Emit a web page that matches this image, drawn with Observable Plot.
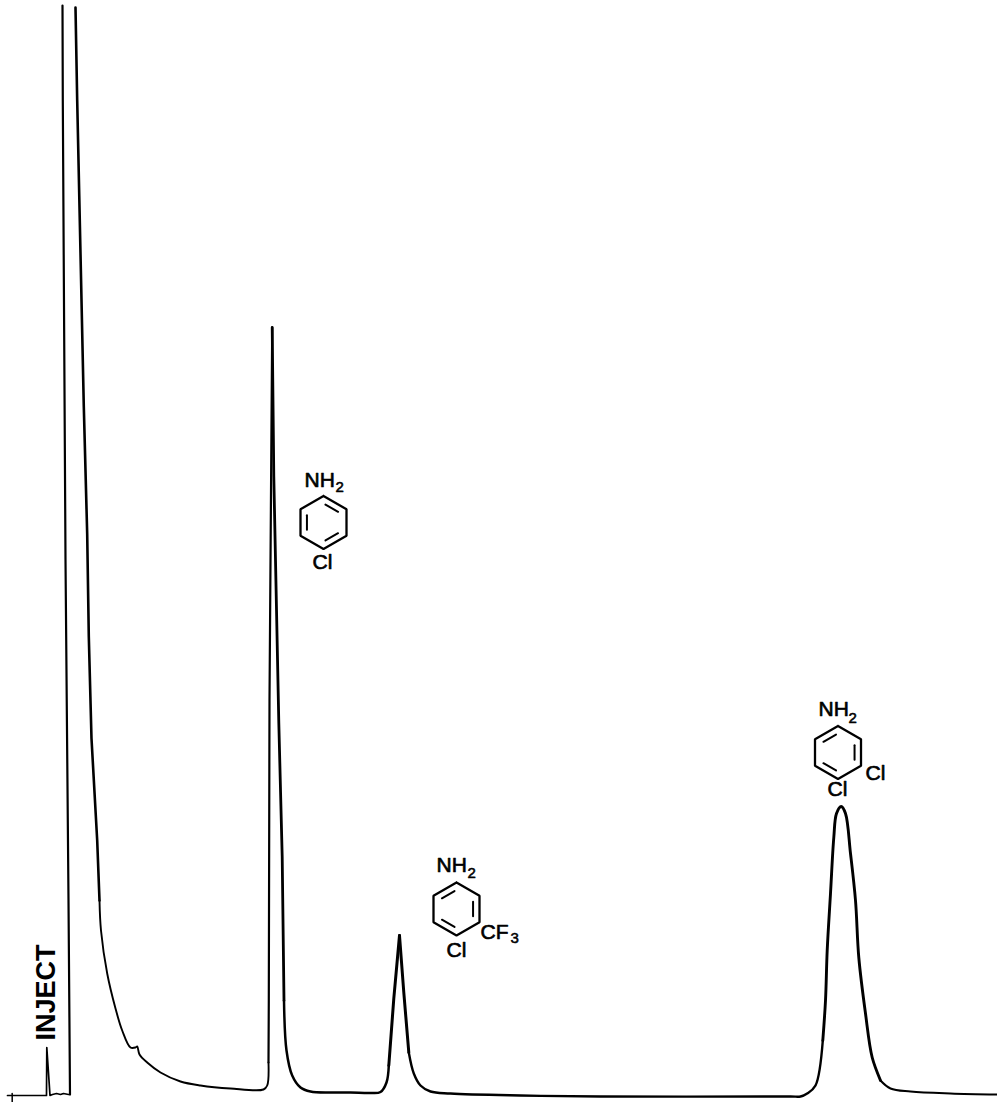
<!DOCTYPE html>
<html><head><meta charset="utf-8">
<style>html,body{margin:0;padding:0;background:#fff}svg{display:block}</style>
<script src="https://cdn.jsdelivr.net/npm/d3@7"></script>
<script src="https://cdn.jsdelivr.net/npm/@observablehq/plot@0.6"></script>
</head><body><div id="chart"></div>
<script>
// Detector trace: time (arbitrary units) and signal (arbitrary units)
const injectTime = [7,46,46.3,49.5,52,56,60,63,68,69.5];
const injectSignal = [7,7,55,7,8,9,8,9,8,8];
const solventRiseTime = [69.5,68,65,62.3,62];
const solventRiseSignal = [8,202,543,1002,1097];
const solventFallTime = [75,76.7,80,83.3,86.7,88.3,91,96.7,99];
const solventFallSignal = [1095,1002,849,696,568,466,364,262,202];
const tailTime = [99,100.5,106.7,115,121.7,130,135,136.7,139,146.7,160,180,200,230,263,266.7,268];
const tailSignal = [202,172,129,94,72,55,55,56,48,40,30,21,17,14,13,17,40];
const peak1RiseTime = [268,268.3,269,271.7];
const peak1RiseSignal = [40,102,402,775];
const peak1FallTime = [271.7,273.3,278.3,281.7,283.5];
const peak1FallSignal = [775,626,380,246,102];
const peak1TailTime = [283.5,286,291.7,300,310,330,350,370,380,386,388.3];
const peak1TailSignal = [102,52,27,15,11,10,10,9.5,10.5,20,37];
const peak2RiseTime = [388.3,393.3,399];
const peak2RiseSignal = [37,104,167];
const peak2FallTime = [399,403.3,408.3];
const peak2FallSignal = [167,110,50];
const peak2TailTime = [408.3,413.3,420,430,450,520,600,790,800,806.7,815,822.3];
const peak2TailSignal = [50,29,17,11,9,7,6,6,6,9,17,62];
const peak3Time = [822.3,825,826.7,830,833.3,836,840.7,845,850,855,858.3,865,871.7,880];
const peak3Signal = [62,102,152,209,265,289,296,289,249,202,145,89,45,22];
const peak3TailTime = [880,890,910,950,997];
const peak3TailSignal = [22,14,11,9,8];
const tickTime = [11.7,11.7];
const tickSignal = [9,0];

// Structural formula positions, in the same units as the trace
const ringTime = [323,456,837.5];
const ringSignal = [580,193.5,350];
const innerBondSides = [[0,2,4],[5,1,3],[5,1,3]];
const labelText = ["NH","Cl","NH","Cl","CF","NH","Cl","Cl"];
const labelTime = [304,322,436,456,480,818,875,837];
const labelSignal = [622,540,237,152,170,393,329,313];
const labelAnchor = ["start","middle","start","middle","start","start","middle","middle"];
const subText = ["2","2","3","2"];
const subTime = [335,467,510,848];
const subSignal = [615,229,164,384];
const injectLabel = ["INJECT"];

const ink = "#000";
const segs = [
  [injectTime,injectSignal,1.7,"linear"],
  [solventRiseTime,solventRiseSignal,2.2,"linear"],
  [solventFallTime,solventFallSignal,2.6,"linear"],
  [tailTime,tailSignal,1.9,"catmull-rom"],
  [peak1RiseTime,peak1RiseSignal,2.2,"linear"],
  [peak1FallTime,peak1FallSignal,2.8,"linear"],
  [peak1TailTime,peak1TailSignal,2.5,"catmull-rom"],
  [peak2RiseTime,peak2RiseSignal,3,"linear"],
  [peak2FallTime,peak2FallSignal,3,"linear"],
  [peak2TailTime,peak2TailSignal,2.4,"catmull-rom"],
  [peak3Time,peak3Signal,2.9,"catmull-rom"],
  [peak3TailTime,peak3TailSignal,2.1,"catmull-rom"],
  [tickTime,tickSignal,1.5,"linear"]
];
const marks = segs.map(([t,s,w,c]) => Plot.line(t.map((d,i)=>({t:d,s:s[i]})),{x:"t",y:"s",stroke:ink,strokeWidth:w,curve:c,strokeLinejoin:"round",strokeLinecap:"round"}));

// Rings: hexagon outline and inner double bonds
const R = 26.5, hw = 23;
const hex = [[0,R],[hw,R/2],[hw,-R/2],[0,-R],[-hw,-R/2],[-hw,R/2]];
ringTime.forEach((cx,k)=>{
  const cy = ringSignal[k];
  const pts = [...hex,hex[0]].map(([a,b])=>({t:cx+a,s:cy+b}));
  marks.push(Plot.line(pts,{x:"t",y:"s",stroke:ink,strokeWidth:2.3,strokeLinejoin:"miter"}));
  innerBondSides[k].forEach(i=>{
    const [a,b]=hex[i],[c,d]=hex[(i+1)%6];
    const f=0.72, sh=0.12;
    const p=[[a+(c-a)*sh,b+(d-b)*sh],[a+(c-a)*(1-sh),b+(d-b)*(1-sh)]].map(([x,y])=>({t:cx+x*f,s:cy+y*f}));
    marks.push(Plot.line(p,{x:"t",y:"s",stroke:ink,strokeWidth:2}));
  });
});

const labels = labelText.map((d,i)=>({d,t:labelTime[i],s:labelSignal[i],a:labelAnchor[i]}));
["start","middle"].forEach(a=>marks.push(Plot.text(labels.filter(l=>l.a===a),{x:"t",y:"s",text:"d",textAnchor:a,fontSize:21,fill:ink,stroke:ink,strokeWidth:0.65})));
marks.push(Plot.text(subText.map((d,i)=>({d,t:subTime[i],s:subSignal[i]})),{x:"t",y:"s",text:"d",textAnchor:"start",fontSize:15,fill:ink,stroke:ink,strokeWidth:0.55}));
marks.push(Plot.text(injectLabel,{x:()=>46,y:()=>110,text:d=>d,rotate:-90,fontSize:27,fontWeight:"bold",fill:ink}));

const chart = Plot.plot({
  width:997,height:1102,margin:0,
  x:{domain:[0,997],axis:null},
  y:{domain:[0,1102],axis:null},
  style:{fontFamily:"'Liberation Sans',Arial,sans-serif",background:"#fff",overflow:"visible"},
  marks
});
document.getElementById("chart").append(chart);
</script></body></html>
